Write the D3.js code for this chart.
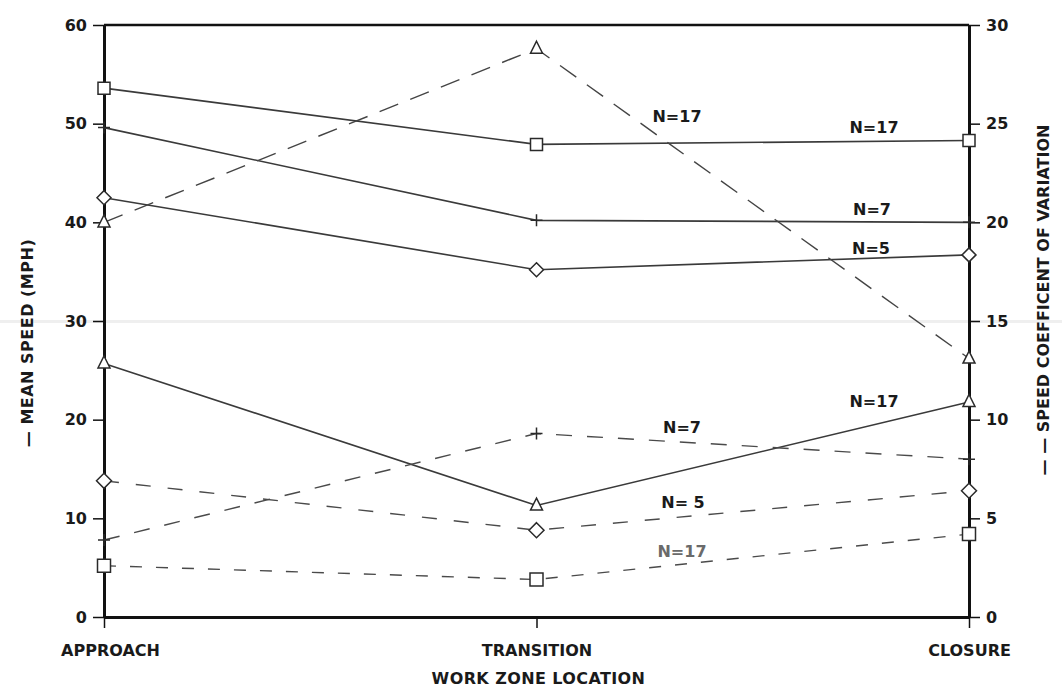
<!DOCTYPE html>
<html>
<head>
<meta charset="utf-8">
<script src="https://cdn.jsdelivr.net/npm/d3@7"></script>
<style>
  html, body { margin: 0; padding: 0; background: #fff; }
  svg { display: block; }
  text { font-family: "DejaVu Sans", "Liberation Sans", Arial, sans-serif; font-weight: bold; fill: #1a1a1a; }
</style>
</head>
<body>
<svg id="chart" width="1062" height="688"></svg>
<script>
// Work zone locations along the x axis
const locations = ["APPROACH", "TRANSITION", "CLOSURE"];

// Mean speed (mph), left axis, solid lines
const speedSquare   = [53.6, 47.9, 48.3];   // N=17
const speedPlus     = [49.6, 40.2, 40.0];   // N=7
const speedDiamond  = [42.5, 35.2, 36.7];   // N=5
const speedTriangle = [25.7, 11.3, 21.8];   // N=17

// Speed coefficient of variation, right axis, dashed lines
const cvTriangle = [20.0, 28.8, 13.1];      // N=17
const cvPlus     = [3.9, 9.3, 8.0];         // N=7
const cvDiamond  = [6.9, 4.4, 6.4];         // N=5
const cvSquare   = [2.6, 1.9, 4.2];         // N=17

// Axis ticks
const speedTicks = [0, 10, 20, 30, 40, 50, 60];
const cvTicks    = [0, 5, 10, 15, 20, 25, 30];

// Sample size labels (dashed triangle, solid square, solid plus, solid diamond,
// solid triangle, dashed plus, dashed diamond, dashed square)
const nLabels = ["N=17", "N=17", "N=7", "N=5", "N=17", "N=7", "N= 5", "N=17"];

const svg = d3.select("#chart");
const plotLeft = 104, plotRight = 969, plotTop = 25, plotBottom = 617;

const x = d3.scalePoint().domain(locations).range([plotLeft, plotRight]).padding(0);
const yL = d3.scaleLinear().domain([0, 60]).range([plotBottom, plotTop]);
const yR = d3.scaleLinear().domain([0, 30]).range([plotBottom, plotTop]);

// faint scan band across the sheet
svg.append("rect").attr("x", 0).attr("y", 320).attr("width", 1062).attr("height", 3)
  .attr("fill", "#efefef");

// top frame line
svg.append("line").attr("x1", plotLeft).attr("x2", plotRight).attr("y1", plotTop).attr("y2", plotTop)
  .attr("stroke", "#111").attr("stroke-width", 2.5);

// axes
const gL = svg.append("g").attr("transform", `translate(${plotLeft},0)`)
  .call(d3.axisLeft(yL).tickValues(speedTicks).tickSize(11).tickSizeOuter(0).tickPadding(6));
const gR = svg.append("g").attr("transform", `translate(${plotRight},0)`)
  .call(d3.axisRight(yR).tickValues(cvTicks).tickSize(11).tickSizeOuter(0).tickPadding(6));
const gB = svg.append("g").attr("transform", `translate(0,${plotBottom})`)
  .call(d3.axisBottom(x).tickSize(11).tickSizeOuter(0).tickPadding(17));

[gL, gR, gB].forEach(g => {
  g.select(".domain").attr("stroke", "#111").attr("stroke-width", 3);
  g.selectAll(".tick line").attr("stroke", "#111").attr("stroke-width", 1.5);
  g.selectAll("text").attr("fill", "#1a1a1a").style("font-size", "16px")
    .style("font-family", "'DejaVu Sans', 'Liberation Sans', Arial, sans-serif").style("font-weight", "bold");
});
// first category label sits a little right of its tick
gB.selectAll(".tick text").filter(d => d === "APPROACH").attr("dx", 6);

// axis titles
svg.append("text").attr("x", (plotLeft + plotRight) / 2 + 2).attr("y", 684)
  .attr("text-anchor", "middle").style("font-size", "16px").style("letter-spacing", "0.4px")
  .text("WORK ZONE LOCATION");
svg.append("text").attr("transform", "translate(33,343) rotate(-90)")
  .attr("text-anchor", "middle").style("font-size", "16px").style("letter-spacing", "0.5px")
  .text("— MEAN SPEED (MPH)");
svg.append("text").attr("transform", "translate(1049,300) rotate(-90)")
  .attr("text-anchor", "middle").style("font-size", "16px")
  .text("— — SPEED COEFFICENT OF VARIATION");

// marker shapes
const shapes = {
  square:   s => `M${-s/2},${-s/2}h${s}v${s}h${-s}Z`,
  diamond:  s => `M0,${-s/2}L${s/2},0L0,${s/2}L${-s/2},0Z`,
  triangle: s => `M0,${-s*0.62}L${s/2},${s*0.38}L${-s/2},${s*0.38}Z`,
  plus:     s => `M0,${-s/2}V${s/2}M${-s/2},0H${s/2}`
};

const series = [
  { values: speedSquare,   y: yL, dash: null,    shape: "square",   size: 12, color: "#3a3a3a" },
  { values: speedPlus,     y: yL, dash: null,    shape: "plus",     size: 12, color: "#3a3a3a" },
  { values: speedDiamond,  y: yL, dash: null,    shape: "diamond",  size: 14, color: "#3a3a3a" },
  { values: speedTriangle, y: yL, dash: null,    shape: "triangle", size: 12, color: "#3a3a3a" },
  { values: cvTriangle,    y: yR, dash: "20,13", shape: "triangle", size: 12, color: "#444" },
  { values: cvPlus,        y: yR, dash: "16,15", shape: "plus",     size: 12, color: "#4a4a4a" },
  { values: cvDiamond,     y: yR, dash: "15,17", shape: "diamond",  size: 15, color: "#4a4a4a" },
  { values: cvSquare,      y: yR, dash: "12,14", shape: "square",   size: 13, color: "#4a4a4a" }
];

const line = yScale => d3.line().x((d, i) => x(locations[i])).y(d => yScale(d));

series.forEach(s => {
  svg.append("path").datum(s.values)
    .attr("d", line(s.y))
    .attr("fill", "none")
    .attr("stroke", s.color)
    .attr("stroke-width", s.dash ? 1.4 : 1.6)
    .attr("stroke-dasharray", s.dash);
});

series.forEach(s => {
  svg.append("g").selectAll("path").data(s.values).join("path")
    .attr("transform", (d, i) => `translate(${x(locations[i])},${s.y(d)})`)
    .attr("d", shapes[s.shape](s.size))
    .attr("fill", s.shape === "plus" ? "none" : "#fff")
    .attr("stroke", "#2a2a2a")
    .attr("stroke-width", 1.5);
});

// sample size labels
const labelPos = [
  { x: 677, y: 122, c: "#1a1a1a" },
  { x: 874, y: 133, c: "#1a1a1a" },
  { x: 872, y: 215, c: "#1a1a1a" },
  { x: 871, y: 254, c: "#1a1a1a" },
  { x: 874, y: 407, c: "#1a1a1a" },
  { x: 682, y: 433, c: "#1a1a1a" },
  { x: 683, y: 508, c: "#1a1a1a" },
  { x: 682, y: 557, c: "#6a6a6a" }
];
svg.append("g").selectAll("text").data(nLabels).join("text")
  .attr("x", (d, i) => labelPos[i].x)
  .attr("y", (d, i) => labelPos[i].y)
  .attr("text-anchor", "middle")
  .style("font-size", "16px")
  .style("fill", (d, i) => labelPos[i].c)
  .text(d => d);
</script>
</body>
</html>
